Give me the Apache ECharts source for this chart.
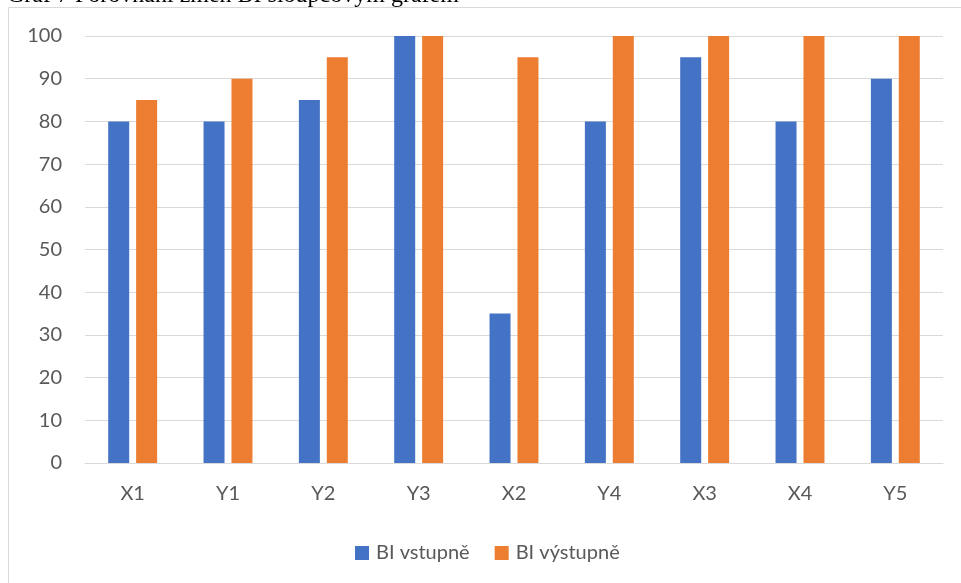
<!DOCTYPE html>
<html>
<head>
<meta charset="utf-8">
<script src="https://cdn.jsdelivr.net/npm/echarts@6/dist/echarts.min.js"></script>
<style>
  html, body { margin: 0; padding: 0; background: #ffffff; }
  #chart { width: 961px; height: 583px; }
</style>
</head>
<body>
<div id="chart"></div>
<script>
// Category labels along the x axis
const categories = ['X1', 'Y1', 'Y2', 'Y3', 'X2', 'Y4', 'X3', 'X4', 'Y5'];
// BI score at entry and at exit
const biEntry = [80, 80, 85, 100, 35, 80, 95, 80, 90];
const biExit = [85, 90, 95, 100, 95, 100, 100, 100, 100];
const seriesNames = ['BI vstupně', 'BI výstupně'];
const captionText = 'Graf 7 Porovnání změn BI sloupcovým grafem';

const labelFont = 'Lato, "Open Sans", "Liberation Sans", sans-serif';
const chart = echarts.init(document.getElementById('chart'), null, { renderer: 'canvas' });

chart.setOption({
  animation: false,
  backgroundColor: '#ffffff',
  color: ['#4472C4', '#ED7D31'],
  graphic: [
    {
      type: 'text',
      left: 7,
      top: -16,
      style: {
        text: captionText,
        font: '24px "Liberation Serif", "Times New Roman", serif',
        fill: '#000000'
      }
    },
    {
      type: 'rect',
      shape: { x: 8.5, y: 7.5, width: 1200, height: 1200 },
      style: { fill: 'none', stroke: '#d9d9d9', lineWidth: 1 },
      z: -1
    }
  ],
  grid: { left: 85, right: 18, top: 36, bottom: 120, containLabel: false },
  legend: {
    data: seriesNames,
    left: 350,
    top: 538,
    itemWidth: 14,
    itemHeight: 14,
    itemGap: 25,
    icon: 'rect',
    textStyle: { fontFamily: labelFont, fontSize: 20, color: '#595959', padding: [0, 0, 0, 2] }
  },
  xAxis: {
    type: 'category',
    data: categories,
    axisTick: { show: false },
    axisLine: { lineStyle: { color: '#d9d9d9', width: 1 } },
    axisLabel: { fontFamily: labelFont, fontSize: 20, color: '#595959', margin: 21 }
  },
  yAxis: {
    type: 'value',
    min: 0,
    max: 100,
    interval: 10,
    axisLine: { show: false },
    axisTick: { show: false },
    splitLine: { lineStyle: { color: '#d9d9d9', width: 1 } },
    axisLabel: { fontFamily: labelFont, fontSize: 20, color: '#595959', margin: 23 }
  },
  series: [
    {
      name: seriesNames[0],
      type: 'bar',
      data: biEntry,
      barWidth: 21,
      barGap: '33%'
    },
    {
      name: seriesNames[1],
      type: 'bar',
      data: biExit,
      barWidth: 21,
      barGap: '33%'
    }
  ]
});
</script>
</body>
</html>
